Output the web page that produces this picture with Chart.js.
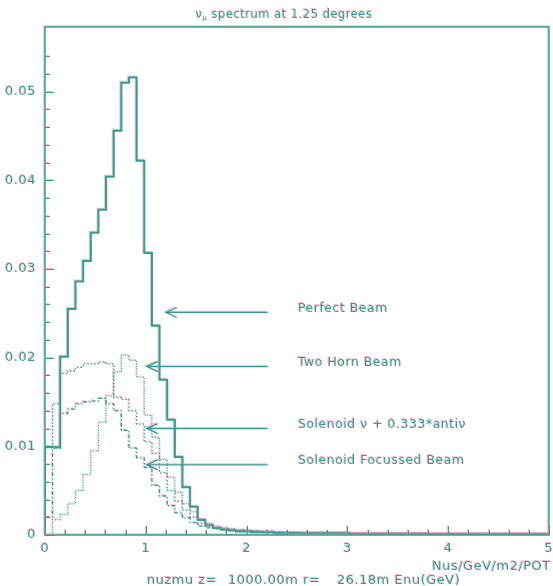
<!DOCTYPE html>
<html>
<head>
<meta charset="utf-8">
<script src="https://cdn.jsdelivr.net/npm/chart.js@4.4.0/dist/chart.umd.min.js"></script>
<style>
  html, body { margin: 0; padding: 0; background: #fff; }
  #wrap { width: 553px; height: 586px; }
</style>
</head>
<body>
<div id="wrap"><canvas id="spectrum" width="553" height="586"></canvas></div>
<script>
// bin width in GeV (66 bins from 0 to 5)
const BIN_WIDTH = 0.0758;
const Y_MAX = 0.0573;

// histogram contents, Nus/GeV/m2/POT, one value per bin
const perfectBeam = [
  0.0099, 0.0099, 0.0201, 0.0255, 0.0286, 0.0309, 0.0341, 0.0367, 0.0404, 0.0456,
  0.0510, 0.0516, 0.0422, 0.0318, 0.0236, 0.0175, 0.0130, 0.0088, 0.0054, 0.0032,
  0.0017, 0.0011, 0.0008, 0.0006, 0.0005, 0.0004, 0.0004, 0.0003, 0.0003, 0.0003,
  0.0002, 0.0002, 0.0002, 0.0002, 0.0002, 0.0002, 0.0002, 0.0002, 0.0002, 0.0002,
  0.00015, 0.00015, 0.00015, 0.00015, 0.00015, 0.00015, 0.00015, 0.00015, 0.00015, 0.00015,
  0.0001, 0.0001, 0.0001, 0.0001, 0.0001, 0.0001, 0.0001, 0.0001, 0.0001, 0.0001,
  0.0001, 0.0001, 0.0001, 0.0001, 0.0001, 0.0001
];
const twoHornBeam = [
  0.0000, 0.0017, 0.0023, 0.0035, 0.0050, 0.0068, 0.0095, 0.0127, 0.0157, 0.0184,
  0.0203, 0.0197, 0.0178, 0.0135, 0.0110, 0.0085, 0.0065, 0.0048, 0.0035, 0.0026,
  0.0018, 0.0013, 0.0010, 0.0008, 0.0007, 0.0006, 0.0005, 0.0005, 0.0004, 0.0004,
  0.0003, 0.0003, 0.0003, 0.0003, 0.0002, 0.0002, 0.0002, 0.0002, 0.0002, 0.0002,
  0.00015, 0.00015, 0.00015, 0.00015, 0.00015, 0.00015, 0.00015, 0.00015, 0.00015, 0.00015,
  0.0001, 0.0001, 0.0001, 0.0001, 0.0001, 0.0001, 0.0001, 0.0001, 0.0001, 0.0001,
  0.0001, 0.0001, 0.0001, 0.0001, 0.0001, 0.0001
];
const solenoidNuAnti = [
  0.0099, 0.0148, 0.0182, 0.0185, 0.0189, 0.0193, 0.0193, 0.0195, 0.0193, 0.0155,
  0.0153, 0.0140, 0.0125, 0.0105, 0.0092, 0.0070, 0.0050, 0.0038, 0.0028, 0.0020,
  0.0013, 0.0010, 0.0008, 0.0007, 0.0006, 0.0005, 0.0005, 0.0004, 0.0004, 0.0003,
  0.0003, 0.0003, 0.0003, 0.0002, 0.0002, 0.0002, 0.0002, 0.0002, 0.0002, 0.0002,
  0.00015, 0.00015, 0.00015, 0.00015, 0.00015, 0.00015, 0.00015, 0.00015, 0.00015, 0.00015,
  0.0001, 0.0001, 0.0001, 0.0001, 0.0001, 0.0001, 0.0001, 0.0001, 0.0001, 0.0001,
  0.0001, 0.0001, 0.0001, 0.0001, 0.0001, 0.0001
];
const solenoidFocussed = [
  0.0020, 0.0098, 0.0137, 0.0142, 0.0148, 0.0150, 0.0151, 0.0154, 0.0148, 0.0140,
  0.0118, 0.0098, 0.0087, 0.0076, 0.0056, 0.0044, 0.0033, 0.0025, 0.0019, 0.0014,
  0.0010, 0.0008, 0.0007, 0.0006, 0.0005, 0.0004, 0.0004, 0.0003, 0.0003, 0.0003,
  0.0003, 0.0002, 0.0002, 0.0002, 0.0002, 0.0002, 0.0002, 0.0002, 0.0002, 0.0002,
  0.00015, 0.00015, 0.00015, 0.00015, 0.00015, 0.00015, 0.00015, 0.00015, 0.00015, 0.00015,
  0.0001, 0.0001, 0.0001, 0.0001, 0.0001, 0.0001, 0.0001, 0.0001, 0.0001, 0.0001,
  0.0001, 0.0001, 0.0001, 0.0001, 0.0001, 0.0001
];

// arrow annotations (data units)
const arrowLabels = ['Perfect Beam', 'Two Horn Beam', 'Solenoid ν + 0.333*antiν', 'Solenoid Focussed Beam'];
const arrowY = [0.0251, 0.0190, 0.0120, 0.0079];
const arrowTipX = [1.20, 1.01, 1.01, 1.01];
const arrowTailX = 2.21;
const labelX = 2.51;

const TEAL = '#2f9f97';
const GHOST = 'rgba(240, 130, 150, 0.55)';
const FONT = "'DejaVu Sans', sans-serif";

const nearMultiple = (v, step) => Math.abs(v / step - Math.round(v / step)) < 1e-6;

// histogram -> step points (left edges)
function histPoints(vals) {
  const pts = [{ x: 0, y: 0 }];
  vals.forEach((v, i) => pts.push({ x: i * BIN_WIDTH, y: v }));
  pts.push({ x: vals.length * BIN_WIDTH, y: vals[vals.length - 1] });
  return pts;
}

// PAW-like frame, inward ticks, arrows and texts
const pawPlugin = {
  id: 'paw',
  beforeDraw(chart) {
    const ctx = chart.ctx;
    ctx.save();
    ctx.shadowColor = GHOST;
    ctx.shadowBlur = 0;
    ctx.shadowOffsetX = -1;
    ctx.shadowOffsetY = -1;
    ctx.letterSpacing = '0.5px';
  },
  afterDraw(chart) {
    const { ctx, chartArea: a, scales: { x, y } } = chart;
    ctx.strokeStyle = TEAL;
    ctx.fillStyle = TEAL;

    ctx.lineWidth = 1.5;
    ctx.strokeRect(a.left, a.top, a.right - a.left, a.bottom - a.top);

    // inward ticks
    ctx.lineWidth = 1;
    ctx.beginPath();
    y.ticks.forEach(t => {
      if (!nearMultiple(t.value, 0.002)) return;
      const py = Math.round(y.getPixelForValue(t.value)) + 0.5;
      const len = nearMultiple(t.value, 0.01) ? 9 : 5;
      ctx.moveTo(a.left, py);
      ctx.lineTo(a.left + len, py);
    });
    x.ticks.forEach(t => {
      if (!nearMultiple(t.value, 0.2)) return;
      const px = Math.round(x.getPixelForValue(t.value)) + 0.5;
      const len = nearMultiple(t.value, 1) ? 9 : 5;
      ctx.moveTo(px, a.bottom);
      ctx.lineTo(px, a.bottom - len);
    });
    ctx.stroke();

    // arrows
    ctx.lineWidth = 1.3;
    arrowLabels.forEach((lab, i) => {
      const py = y.getPixelForValue(arrowY[i]);
      const tip = x.getPixelForValue(arrowTipX[i]);
      const tail = x.getPixelForValue(arrowTailX);
      ctx.beginPath();
      ctx.moveTo(tail, py);
      ctx.lineTo(tip, py);
      ctx.moveTo(tip + 11, py - 5);
      ctx.lineTo(tip, py);
      ctx.lineTo(tip + 11, py + 5);
      ctx.stroke();
      ctx.font = '12.5px ' + FONT;
      ctx.textAlign = 'left';
      ctx.textBaseline = 'middle';
      ctx.fillText(lab, x.getPixelForValue(labelX), py - 4);
    });

    // title with nu_mu
    ctx.textBaseline = 'alphabetic';
    ctx.font = '11.5px ' + FONT;
    const rest = ' spectrum at 1.25 degrees';
    const wNu = ctx.measureText('ν').width;
    const wRest = ctx.measureText(rest).width;
    ctx.font = '7px ' + FONT;
    const wSub = ctx.measureText('μ').width;
    let tx = 284 - (wNu + wSub + wRest) / 2;
    ctx.font = '11.5px ' + FONT;
    ctx.fillText('ν', tx, 18);
    ctx.font = '7px ' + FONT;
    ctx.fillText('μ', tx + wNu, 20);
    ctx.font = '11.5px ' + FONT;
    ctx.fillText(rest, tx + wNu + wSub, 18);

    // footer
    ctx.font = '13px ' + FONT;
    ctx.fillText('Nus/GeV/m2/POT', 432, 570);
    ctx.fillText('nuzmu z=', 147, 584);
    ctx.fillText('1000.00m r=', 228, 584);
    ctx.fillText('26.18m Enu(GeV)', 337, 584);

    ctx.restore();
  }
};

const lineStyle = (data, dash, width) => ({
  data: histPoints(data),
  borderColor: TEAL,
  borderWidth: width,
  borderDash: dash,
  stepped: 'before',
  pointRadius: 0,
  fill: false
});

new Chart(document.getElementById('spectrum'), {
  type: 'line',
  data: {
    datasets: [
      { label: 'Solenoid ν + 0.333*antiν', ...lineStyle(solenoidNuAnti, [1.5, 2], 1.3) },
      { label: 'Solenoid Focussed Beam', ...lineStyle(solenoidFocussed, [4, 2, 1.5, 2], 1.3) },
      { label: 'Two Horn Beam', ...lineStyle(twoHornBeam, [1, 1.5], 1.3) },
      { label: 'Perfect Beam', ...lineStyle(perfectBeam, [], 2) }
    ]
  },
  options: {
    responsive: false,
    animation: false,
    layout: { autoPadding: false, padding: { top: 27, right: 4, left: 0, bottom: 0 } },
    plugins: { legend: { display: false }, tooltip: { enabled: false }, title: { display: false } },
    scales: {
      x: {
        type: 'linear', min: 0, max: 5,
        grid: { display: false, drawTicks: false },
        border: { display: false },
        ticks: {
          stepSize: 0.2, autoSkip: false, maxRotation: 0, padding: 6,
          color: TEAL, font: { family: FONT, size: 13 },
          callback: v => nearMultiple(v, 1) ? String(Math.round(v)) : ''
        },
        afterFit: s => { s.height = 51; s.paddingLeft = 0; s.paddingRight = 0; }
      },
      y: {
        type: 'linear', min: 0, max: Y_MAX,
        grid: { display: false, drawTicks: false },
        border: { display: false },
        ticks: {
          stepSize: 0.002, autoSkip: false, padding: 9,
          color: TEAL, font: { family: FONT, size: 13 },
          callback: v => v === 0 ? '0' : (nearMultiple(v, 0.01) ? v.toFixed(2) : '')
        },
        afterFit: s => { s.width = 45; s.paddingTop = 0; s.paddingBottom = 0; }
      }
    }
  },
  plugins: [pawPlugin]
});
</script>
</body>
</html>
